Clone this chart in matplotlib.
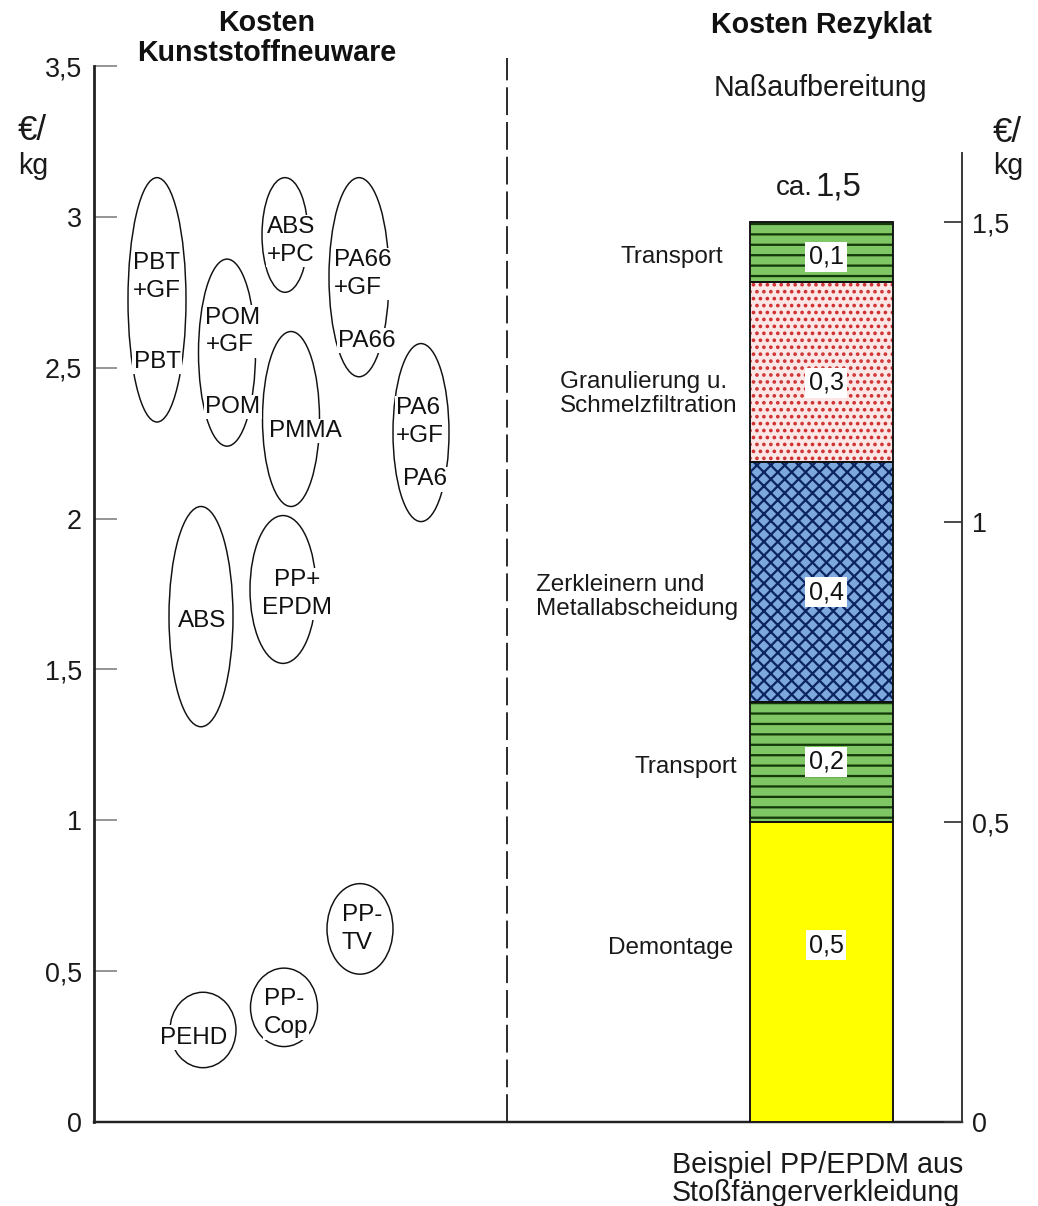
import matplotlib
matplotlib.use("Agg")
import matplotlib.pyplot as plt
from matplotlib.patches import Ellipse
from matplotlib.ticker import FixedLocator, FuncFormatter
import numpy as np

plt.rcParams['font.family'] = ['Liberation Sans', 'DejaVu Sans']
plt.rcParams['hatch.linewidth'] = 1.3

# ---- data -------------------------------------------------------------
# price ranges of virgin plastics (€/kg)
materials = ['PBT', 'POM', 'ABS+PC', 'PA66', 'PMMA', 'PA6',
             'ABS', 'PP+EPDM', 'PP-TV', 'PP-Cop', 'PEHD']
price_low = [2.32, 2.24, 2.75, 2.47, 2.04, 1.99, 1.31, 1.52, 0.49, 0.25, 0.18]
price_high = [3.13, 2.86, 3.13, 3.13, 2.62, 2.58, 2.04, 2.01, 0.79, 0.51, 0.43]

# cost build-up of the recyclate (€/kg), bottom to top
steps = ['Demontage', 'Transport', 'Zerkleinern und\nMetallabscheidung',
         'Granulierung u.\nSchmelzfiltration', 'Transport']
step_cost = [0.5, 0.2, 0.4, 0.3, 0.1]

left_ticks = [0, 0.5, 1, 1.5, 2, 2.5, 3, 3.5]
right_ticks = [0, 0.5, 1, 1.5]

# ---- layout -----------------------------------------------------------
W, H, DPI = 1038, 1206, 125
fig = plt.figure(figsize=(W / DPI, H / DPI), dpi=DPI)


def fx(px):
    return px / W


def fy(py):
    return 1 - py / H


ax = fig.add_axes([fx(94), fy(1122), (962 - 94) / W, (1122 - 66) / H])
ax.set_xlim(0, 868)
ax.set_ylim(0, 3.5)

ax2 = ax.twinx()
ax2.set_ylim(0, 1.76)

# ellipse placement (horizontal centre and width in axis units)
ell_x = [63, 133, 191, 265, 197, 327, 107, 189, 266, 190, 109]
ell_w = [58, 57, 46, 60, 57, 56, 64, 66, 66, 67, 66]

# ellipse labels: (text, x, y, multialignment)
ell_labels = [
    ('PBT\n+GF', 63, 2.80, 'left'), ('PBT', 63, 2.52, 'left'),
    ('POM\n+GF', 139, 2.62, 'left'), ('POM', 139, 2.37, 'left'),
    ('ABS\n+PC', 197, 2.92, 'left'),
    ('PA66\n+GF', 269, 2.81, 'left'), ('PA66', 273, 2.59, 'left'),
    ('PMMA', 211, 2.29, 'left'),
    ('PA6\n+GF', 326, 2.32, 'left'), ('PA6', 331, 2.13, 'left'),
    ('ABS', 108, 1.66, 'left'),
    ('PP+\nEPDM', 203, 1.75, 'center'),
    ('PP-\nTV', 268, 0.64, 'left'),
    ('PP-\nCop', 192, 0.36, 'left'),
    ('PEHD', 100, 0.28, 'left'),
]

bar_x, bar_w = 727, 143
step_face = ['#ffff00', '#7fc665', '#7ca8de', '#fce6e6', '#7fc665']
step_hatch = ['', '--', 'xxx', '...', '--']
step_hatch_col = ['#ffff00', '#143a0a', '#0c2560', '#cf3030', '#143a0a']
step_label_x = [639, 643, 644, 644, 629]
step_label_y = [0.29, 0.592, 0.875, 1.213, 1.442]
value_offset = [0.045, 0.0, -0.017, -0.018, -0.008]

# ---- left part: virgin plastics ---------------------------------------
for x, w, lo, hi in zip(ell_x, ell_w, price_low, price_high):
    ax.add_patch(Ellipse((x, (lo + hi) / 2), w, hi - lo,
                         fill=False, ec='#111111', lw=0.85, zorder=2))

for txt, x, y, ma in ell_labels:
    ax.text(x, y, txt, ha='center', va='center', multialignment=ma,
            fontsize=14, linespacing=1.35, color='#111111', zorder=3,
            bbox=dict(boxstyle='square,pad=0.05', fc='white', ec='none'))

ax.axvline(413, ymin=0, ymax=1 + 8 / 1056, color='#111111', lw=1.0,
           dashes=(16, 4), clip_on=False)

# ---- right part: recyclate cost stack ---------------------------------
bottoms = np.concatenate([[0], np.cumsum(step_cost)[:-1]])
ax2.bar(bar_x, step_cost, bottom=bottoms, width=bar_w, color=step_face,
        edgecolor=step_hatch_col, hatch=step_hatch, linewidth=0, zorder=2)
ax2.bar(bar_x, step_cost, bottom=bottoms, width=bar_w, fill=False,
        edgecolor='#111111', linewidth=1.1, zorder=3)

for name, c, b, lx, ly, off in zip(steps, step_cost, bottoms,
                                   step_label_x, step_label_y, value_offset):
    ax2.text(bar_x + 5, b + c / 2 + off, f'{c:.1f}'.replace('.', ','),
             ha='center', va='center', fontsize=14.5, color='#111111',
             zorder=4,
             bbox=dict(boxstyle='square,pad=0.12', fc='white', ec='none'))
    ax2.text(lx, ly, name, ha='right', va='center', multialignment='left',
             fontsize=14, linespacing=1.15, color='#1a1a1a')

# ---- axes styling -----------------------------------------------------
comma = FuncFormatter(lambda v, p: f'{v:g}'.replace('.', ','))

ax.yaxis.set_major_locator(FixedLocator(left_ticks))
ax.yaxis.set_major_formatter(comma)
ax.tick_params(axis='y', direction='in', length=13, width=1.0,
               color='#888888', labelsize=15.5, pad=7, labelcolor='#1a1a1a')
ax.tick_params(axis='x', bottom=False, labelbottom=False)
for s in ['top', 'right']:
    ax.spines[s].set_visible(False)
ax.spines['left'].set_linewidth(1.6)
ax.spines['left'].set_color('#222222')
ax.spines['bottom'].set_linewidth(1.4)
ax.spines['bottom'].set_color('#222222')

ax2.yaxis.set_major_locator(FixedLocator(right_ticks))
ax2.yaxis.set_major_formatter(comma)
ax2.tick_params(axis='y', direction='in', length=10.5, width=1.0,
                color='#333333', labelsize=15.5, pad=6, labelcolor='#1a1a1a')
for s in ['top', 'left', 'bottom']:
    ax2.spines[s].set_visible(False)
ax2.spines['right'].set_bounds(0, 1.615)
ax2.spines['right'].set_linewidth(1.1)
ax2.spines['right'].set_color('#333333')

# ---- headings and units -----------------------------------------------
fig.text(fx(267), fy(23), 'Kosten', ha='center', va='center',
         fontsize=16.5, fontweight='bold', color='#111111')
fig.text(fx(267), fy(53), 'Kunststoffneuware', ha='center', va='center',
         fontsize=16.5, fontweight='bold', color='#111111')
fig.text(fx(821), fy(25), 'Kosten Rezyklat', ha='center', va='center',
         fontsize=16.5, fontweight='bold', color='#111111')
fig.text(fx(820), fy(88), 'Naßaufbereitung', ha='center', va='center',
         fontsize=16.5, color='#1a1a1a')

fig.text(fx(813), fy(195), 'ca.', ha='right', va='baseline',
         fontsize=16, color='#1a1a1a')
fig.text(fx(815), fy(195), '1,5', ha='left', va='baseline',
         fontsize=19, color='#1a1a1a')

fig.text(fx(18), fy(130), '€/', ha='left', va='center', fontsize=20,
         color='#1a1a1a')
fig.text(fx(18), fy(166), 'kg', ha='left', va='center', fontsize=16.5,
         color='#1a1a1a')
fig.text(fx(993), fy(133), '€/', ha='left', va='center', fontsize=20,
         color='#1a1a1a')
fig.text(fx(993), fy(166), 'kg', ha='left', va='center', fontsize=16.5,
         color='#1a1a1a')

fig.text(fx(672), fy(1165), 'Beispiel PP/EPDM aus', ha='left', va='center',
         fontsize=16.5, color='#1a1a1a')
fig.text(fx(672), fy(1193), 'Stoßfängerverkleidung', ha='left',
         va='center', fontsize=16.5, color='#1a1a1a')

fig.savefig('out.png', dpi=DPI, facecolor='white')
